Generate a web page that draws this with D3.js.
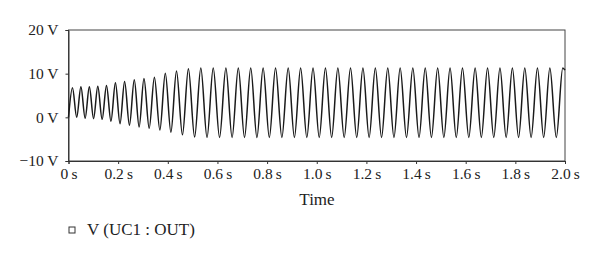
<!DOCTYPE html>
<meta charset="utf-8">
<script src="https://d3js.org/d3.v7.min.js"></script>
<style>
  body { margin: 0; background: #fff; }
  text { font-family: "Liberation Serif", "DejaVu Serif", serif; fill: #222; }
</style>
<div id="my_dataviz"></div>
<script>

// peaks of the waveform (time in s, level in V)
var peakTimes = [0.016, 0.050, 0.084, 0.118, 0.153, 0.189, 0.226, 0.265, 0.304, 0.346,
  0.390, 0.435, 0.483, 0.533, 0.583, 0.634, 0.684, 0.734, 0.784, 0.834,
  0.885, 0.935, 0.985, 1.035, 1.085, 1.136, 1.186, 1.236, 1.286, 1.336,
  1.387, 1.437, 1.487, 1.537, 1.587, 1.638, 1.688, 1.738, 1.788, 1.838,
  1.889, 1.939, 1.991];
var peakVolts = [6.8, 7.0, 7.0, 7.1, 7.3, 7.9, 8.2, 8.6, 8.9, 9.2,
  10.1, 10.6, 11.1, 11.3, 11.3, 11.3, 11.3, 11.3, 11.3, 11.3,
  11.3, 11.3, 11.3, 11.3, 11.3, 11.3, 11.3, 11.3, 11.3, 11.3,
  11.3, 11.3, 11.3, 11.3, 11.3, 11.3, 11.3, 11.3, 11.3, 11.3,
  11.3, 11.3, 11.3];
// troughs between consecutive peaks
var troughVolts = [0.0, -0.2, -0.3, -0.45, -0.9, -1.45, -1.8, -2.2, -2.5, -2.9,
  -3.4, -4.0, -4.5, -4.6, -4.6, -4.6, -4.6, -4.6, -4.6, -4.6,
  -4.6, -4.6, -4.6, -4.6, -4.6, -4.6, -4.6, -4.6, -4.6, -4.6,
  -4.6, -4.6, -4.6, -4.6, -4.6, -4.6, -4.6, -4.6, -4.6, -4.6,
  -4.6, -4.6];
var startPoint = [0, 0];
var endPoint = [2.0, 10.8];

var xTicks = [0, 0.2, 0.4, 0.6, 0.8, 1.0, 1.2, 1.4, 1.6, 1.8, 2.0];
var yTicks = [-10, 0, 10, 20];
var seriesName = "V (UC1 : OUT)";
var xTitle = "Time";

// build the point list: start, peak, trough, peak, ... , end
var points = [startPoint];
peakTimes.forEach(function(t, i) {
  points.push([t, peakVolts[i]]);
  if (i < troughVolts.length) {
    points.push([(t + peakTimes[i + 1]) / 2, troughVolts[i]]);
  }
});
points.push(endPoint);

var width = 600, height = 258;
var plot = {left: 68.5, right: 565, top: 30, bottom: 161};

var svg = d3.select("#my_dataviz")
  .append("svg")
    .attr("width", width)
    .attr("height", height);

var x = d3.scaleLinear()
  .domain([0, 2])
  .range([plot.left, plot.right]);

var y = d3.scaleLinear()
  .domain([-10, 20])
  .range([plot.bottom, plot.top]);

// frame
svg.append("rect")
  .attr("x", plot.left)
  .attr("y", plot.top)
  .attr("width", plot.right - plot.left)
  .attr("height", plot.bottom - plot.top)
  .attr("fill", "none")
  .attr("stroke", "#444")
  .attr("stroke-width", 1);

// X axis
var xAxis = svg.append("g")
  .attr("transform", "translate(0," + plot.bottom + ")")
  .call(d3.axisBottom(x)
    .tickValues(xTicks)
    .tickSize(3)
    .tickPadding(4)
    .tickFormat(function(d) { return (d === 0 ? "0" : d3.format(".1f")(d)) + "\u2009s"; }));

// Y axis
var yAxis = svg.append("g")
  .attr("transform", "translate(" + plot.left + ",0)")
  .call(d3.axisLeft(y)
    .tickValues(yTicks)
    .tickSize(3)
    .tickPadding(7)
    .tickFormat(function(d) { return d3.format("d")(d) + " V"; }));

[xAxis, yAxis].forEach(function(a) {
  a.selectAll("path, line").attr("stroke", "#333");
  a.selectAll("text")
    .attr("fill", "#222")
    .style("font-family", '"Liberation Serif", serif')
    .style("font-size", "15.5px");
});

// waveform
svg.append("path")
  .datum(points)
  .attr("fill", "none")
  .attr("stroke", "#1a1a1a")
  .attr("stroke-width", 1.5)
  .attr("d", d3.line()
    .x(function(d) { return x(d[0]); })
    .y(function(d) { return y(d[1]); })
    .curve(d3.curveMonotoneX));

// axis title
svg.append("text")
  .attr("x", 317)
  .attr("y", 205)
  .attr("text-anchor", "middle")
  .style("font-size", "17px")
  .text(xTitle);

// legend
svg.append("rect")
  .attr("x", 69)
  .attr("y", 227)
  .attr("width", 6)
  .attr("height", 6)
  .attr("fill", "none")
  .attr("stroke", "#333")
  .attr("stroke-width", 1);

svg.append("text")
  .attr("x", 87)
  .attr("y", 234.5)
  .style("font-size", "17px")
  .text(seriesName);

</script>
